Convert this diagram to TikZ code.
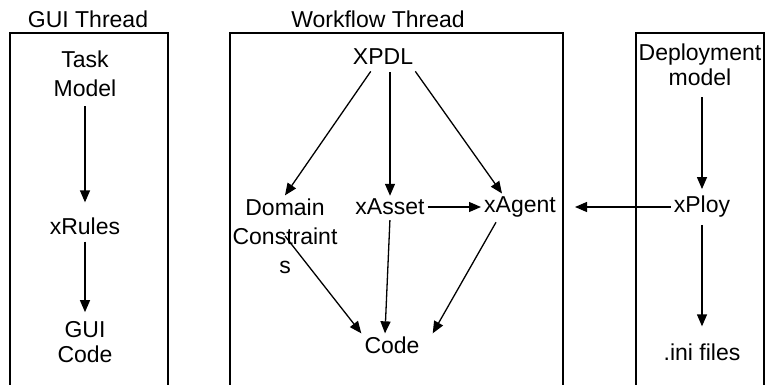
\documentclass[tikz,border=0pt]{standalone}
\usepackage{fontspec}
\setmainfont{Liberation Sans}
\usepackage{tikz}
\usetikzlibrary{arrows.meta,positioning,calc}

\begin{document}
\begin{tikzpicture}[x=1pt,y=-1pt,
    lbl/.style={align=center, inner sep=3pt, font=\fontsize{23}{29}\selectfont},
    arr/.style={-{Triangle[length=12pt,width=10pt]}, line width=1.3pt},
    wall/.style={line width=1.4pt}]
  \useasboundingbox (0,0) rectangle (768,385);

  % Thread boxes (open at the bottom)
  \draw[wall] (10,385) -- (10,33) -- (168,33) -- (168,385);
  \draw[wall] (230,385) -- (230,33) -- (563,33) -- (563,385);
  \draw[wall] (636,385) -- (636,33) -- (764,33) -- (764,385);

  % Define nodes
  \node[lbl] (guit) at (88,19) {GUI Thread};
  \node[lbl] (wft) at (378,19) {Workflow Thread};

  \node[lbl] (task) at (85,74) {Task\\Model};
  \node[lbl] (rules) at (85,226) {xRules};
  \node[lbl, font=\fontsize{23}{25}\selectfont] (guicode) at (85,342) {GUI\\Code};

  \node[lbl] (xpdl) at (383,57) {XPDL};
  \node[lbl] (domain) at (285,236) {Domain\\Constraint\\s};
  \node[lbl] (asset) at (390,207) {xAsset};
  \node[lbl] (agent) at (520,207) {xAgent};
  \node[lbl] (code) at (392,345) {Code};

  \node[lbl, font=\fontsize{23}{25}\selectfont] (deploy) at (700,65) {Deployment\\model};
  \node[lbl] (ploy) at (702,207) {xPloy};
  \node[lbl] (ini) at (702,352) {.ini files};

  % Draw edges
  \draw[arr, shorten <=6pt, shorten >=12pt] (task) -- (rules);
  \draw[arr, shorten <=4pt, shorten >=6pt] (rules) -- (guicode);

  \draw[arr, shorten <=4pt] ([xshift=-10pt]xpdl.south) -- (domain.north);
  \draw[arr, shorten <=4pt] (xpdl.south -| asset.north) -- (asset.north);
  \draw[arr, shorten <=4pt] ([xshift=30pt]xpdl.south) -- ([xshift=-18pt]agent.north);
  \draw[arr] (asset.east) -- (agent.west);
  \draw[arr] (domain.center) -- (code.north west);
  \draw[arr, shorten <=2pt] (asset.south) -- ([xshift=-7pt]code.north);
  \draw[arr, shorten <=2pt] ([xshift=-23pt]agent.south) -- ([xshift=10pt]code.north east);

  \draw[arr, shorten <=8pt, shorten >=4pt] (deploy.south -| ploy) -- (ploy.north);
  \draw[arr, shorten <=4pt, shorten >=14pt] (ploy.south) -- (ini.north);
  \draw[arr] (ploy.west) -- ([xshift=16pt]agent.east);
\end{tikzpicture}
\end{document}
